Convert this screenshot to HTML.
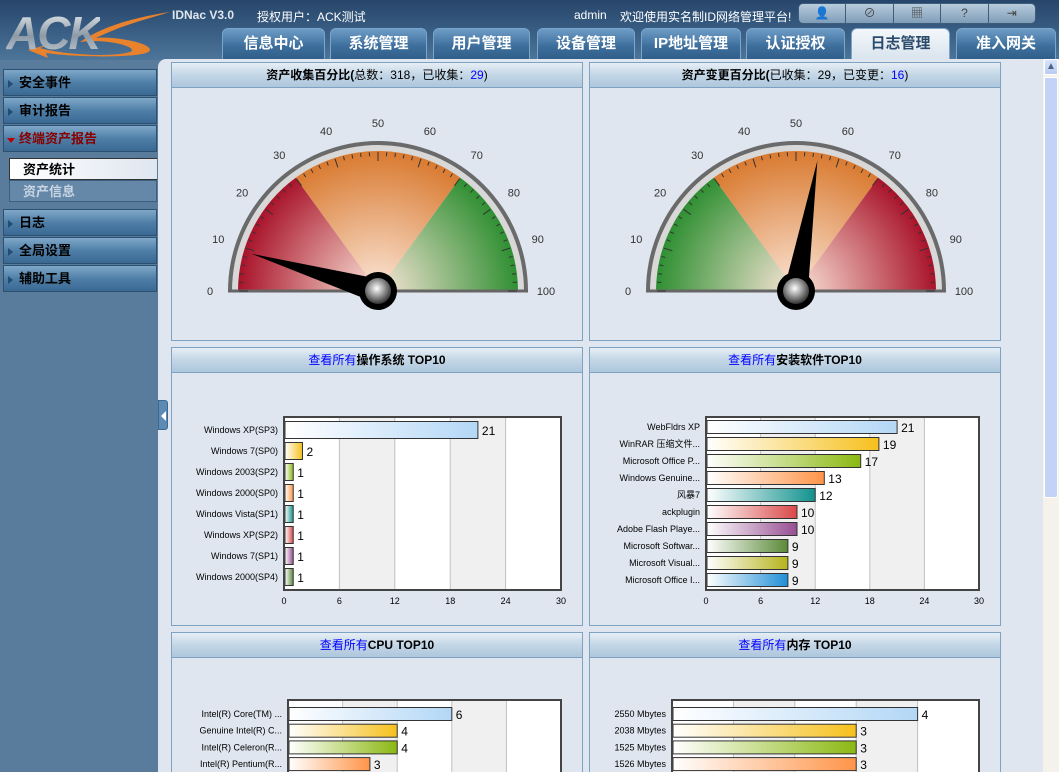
<!DOCTYPE html>
<html style="width:1059px;height:772px;overflow:hidden"><head><meta charset="utf-8">
<style>
*{margin:0;padding:0;box-sizing:border-box}
body{width:1059px;height:772px;overflow:hidden;position:relative;font-family:"Liberation Sans","Noto Sans CJK SC",sans-serif;background:#5a7c9c}
#header{position:absolute;left:0;top:0;width:1059px;height:60px;background:linear-gradient(#27456a,#3c6288 60%,#4d7499)}
#logo{position:absolute;left:6px;top:6px;font:bold italic 46px "Liberation Sans",sans-serif;color:#c9d2da;letter-spacing:-2px;background:linear-gradient(#f4f7fa,#8d9aa6 55%,#c9d2da);-webkit-background-clip:text;-webkit-text-fill-color:transparent}
#swoosh{position:absolute;left:10px;top:8px}
.htext{position:absolute;top:8px;font-size:12px;color:#fff}
.tab{position:absolute;top:28px;height:32px;border-radius:6px 6px 0 0;background:linear-gradient(#6d9cc6,#3e6f9c 55%,#2f5d88);border:1px solid #7aa6cc;border-bottom:none;color:#fff;font-weight:bold;font-size:15px;text-align:center;line-height:30px}
.tab.active{background:linear-gradient(#f3f7fa,#d9e4ee);color:#2b4a6b}
#toolbar{position:absolute;left:798px;top:3px;width:238px;height:21px;border-radius:5px;background:linear-gradient(#b7cbdc,#7f9db8);border:1px solid #3d5d7c;display:flex}
#toolbar div{flex:1;border-right:1px solid #3d5d7c;text-align:center;font-size:12px;line-height:19px;color:#444}
#toolbar div:last-child{border-right:none}
#sidebar{position:absolute;left:0;top:60px;width:158px;height:712px;background:#5a7c9c}
.menu{position:absolute;left:3px;width:154px;height:27px;background:linear-gradient(#7fa8c9,#4f7fa7 50%,#3a6a94);border:1px solid #2c5070;font-weight:bold;font-size:13px;line-height:25px;padding-left:15px;color:#000}
.menu::before{content:"";position:absolute;left:4px;top:10px;border-left:5px solid #234c70;border-top:4px solid transparent;border-bottom:4px solid transparent}
.menu.open{color:#800}
.menu.open::before{border-left:4px solid transparent;border-right:4px solid transparent;border-top:5px solid #b00;border-bottom:none;top:12px;left:3px}
.sub{position:absolute;left:9px;width:148px;height:22px;font-weight:bold;font-size:13px;line-height:21px;padding-left:13px}
#main{position:absolute;left:158px;top:59px;width:885px;height:713px;background:#dfe6f0;border-top-left-radius:8px}
.panel{position:absolute;width:412px;border:1px solid #7ea3c2;background:#dfe6f0;overflow:hidden}
.ph{height:25px;background:linear-gradient(#e6eef5,#c3d6e6 50%,#aec7dc);border-bottom:1px solid #7ea3c2;text-align:center;font-size:12px;font-weight:bold;line-height:25px;color:#000}
.ph a{color:#00f;text-decoration:none;font-weight:normal}
.ph .n{font-weight:normal}
#scroll{position:absolute;left:1043px;top:59px;width:16px;height:713px;background:#f4f2ea}
</style></head><body>
<div id="header">
  <svg id="swoosh" width="170" height="50"><path d="M160 4 C120 10 90 20 70 34 C100 30 130 40 120 44 C100 50 50 46 30 40 L40 36 L18 42 L38 50 L36 45 C70 50 140 50 140 42 C140 34 100 28 86 30 C110 18 140 10 160 4Z" fill="#e8822d"/></svg>
  <div id="logo">ACK</div>
  <div class="htext" style="left:172px;font-weight:bold;color:#dfe6ee">IDNac V3.0</div>
  <div class="htext" style="left:257px">授权用户：ACK测试</div>
  <div class="htext" style="left:574px">admin</div>
  <div class="htext" style="left:620px">欢迎使用实名制ID网络管理平台!</div>
  <div id="toolbar">
    <div>👤</div>
    <div>⊘</div>
    <div>▦</div>
    <div>?</div>
    <div>⇥</div>
  </div>
  <div class="tab" style="left:222px;width:103px">信息中心</div>
  <div class="tab" style="left:330px;width:97px">系统管理</div>
  <div class="tab" style="left:433px;width:97px">用户管理</div>
  <div class="tab" style="left:537px;width:98px">设备管理</div>
  <div class="tab" style="left:641px;width:100px">IP地址管理</div>
  <div class="tab" style="left:746px;width:99px">认证授权</div>
  <div class="tab active" style="left:851px;width:99px">日志管理</div>
  <div class="tab" style="left:956px;width:100px">准入网关</div>
</div>
<div id="sidebar">
  <div class="menu" style="top:9px">安全事件</div>
  <div class="menu" style="top:37px">审计报告</div>
  <div class="menu open" style="top:65px">终端资产报告</div>
  <div class="sub" style="top:98px;background:linear-gradient(90deg,#fff,#dfe6f0);border:1px solid #333;border-right:none">资产统计</div>
  <div class="sub" style="top:120px;background:#6688a8;border:1px solid #3a5f80;color:#c8d6e4">资产信息</div>
  <div class="menu" style="top:149px">日志</div>
  <div class="menu" style="top:177px">全局设置</div>
  <div class="menu" style="top:205px">辅助工具</div>
</div>
<div id="main"></div>
<div style="position:absolute;left:158px;top:400px;width:10px;height:30px;background:#5d8ab3;border:1px solid #3a6a94;border-radius:0 3px 3px 0"><div style="margin:10px 0 0 2px;border-right:5px solid #fff;border-top:5px solid transparent;border-bottom:5px solid transparent;width:0"></div></div>

<div class="panel" style="left:171px;top:62px;height:279px">
  <div class="ph">资产收集百分比(<span class="n">总数：318，已收集：</span><span class="n" style="color:#00f">29</span><span class="n">)</span></div>
  <svg id="g1" width="410" height="252"></svg>
</div>
<div class="panel" style="left:589px;top:62px;height:279px">
  <div class="ph">资产变更百分比(<span class="n">已收集：29，已变更：</span><span class="n" style="color:#00f">16</span><span class="n">)</span></div>
  <svg id="g2" width="410" height="252"></svg>
</div>
<div class="panel" style="left:171px;top:347px;height:279px">
  <div class="ph"><a>查看所有</a>操作系统 TOP10</div>
  <svg id="c1" width="410" height="252"></svg>
</div>
<div class="panel" style="left:589px;top:347px;height:279px">
  <div class="ph"><a>查看所有</a>安装软件TOP10</div>
  <svg id="c2" width="410" height="252"></svg>
</div>
<div class="panel" style="left:171px;top:632px;height:141px">
  <div class="ph"><a>查看所有</a>CPU TOP10</div>
  <svg id="c3" width="410" height="130"></svg>
</div>
<div class="panel" style="left:589px;top:632px;height:141px">
  <div class="ph"><a>查看所有</a>内存 TOP10</div>
  <svg id="c4" width="410" height="130"></svg>
</div>

<div id="scroll">
  <div style="position:absolute;left:1px;top:0;width:14px;height:16px;background:linear-gradient(#d8e4fb,#b8ccf4);border:1px solid #fff;text-align:center;font-size:10px;color:#4d6185;line-height:14px">▲</div>
  <div style="position:absolute;left:1px;top:18px;width:14px;height:421px;background:#c3d3f8;border:1px solid #fff;border-radius:2px"></div>
</div>

<script>
// ---- gauge data ----
const gaugeValues=[29/318*100, 16/29*100];
const gaugeTicks=[0,10,20,30,40,50,60,70,80,90,100];
const gaugeBandStops=[0,30,70,100];
const gauge1Colors=["#a8132a","#d97a30","#2f8f32"];
const gauge2Colors=["#2f8f32","#d97a30","#a8132a"];
// ---- bar chart data ----
const osCats=["Windows XP(SP3)","Windows 7(SP0)","Windows 2003(SP2)","Windows 2000(SP0)","Windows Vista(SP1)","Windows XP(SP2)","Windows 7(SP1)","Windows 2000(SP4)"];
const osVals=[21,2,1,1,1,1,1,1];
const osTicks=[0,6,12,18,24,30];
const swCats=["WebFldrs XP","WinRAR 压缩文件...","Microsoft Office P...","Windows Genuine...","风暴7","ackplugin","Adobe Flash Playe...","Microsoft Softwar...","Microsoft Visual...","Microsoft Office I..."];
const swVals=[21,19,17,13,12,10,10,9,9,9];
const swTicks=[0,6,12,18,24,30];
const cpuCats=["Intel(R) Core(TM) ...","Genuine Intel(R) C...","Intel(R) Celeron(R...","Intel(R) Pentium(R..."];
const cpuVals=[6,4,4,3];
const cpuTicks=[0,2,4,6,8,10];
const memCats=["2550 Mbytes","2038 Mbytes","1525 Mbytes","1526 Mbytes"];
const memVals=[4,3,3,3];
const memTicks=[0,1,2,3,4,5];
const barColors=["#b3d7f6","#f6c01c","#8bb812","#ff9448","#12928e","#d94848","#964e92","#5b8a38","#b5b41c","#1f8fd6"];

const NS="http://www.w3.org/2000/svg";
function mk(parent,tag,attrs){const e=document.createElementNS(NS,tag);for(const k in attrs)e.setAttribute(k,attrs[k]);parent.appendChild(e);return e;}

function drawGauge(svg,value,colors,id){
  const cx=206,cy=203,R=150,r=140;
  const ang=v=>Math.PI-(v/100)*Math.PI;
  const pt=(v,rad)=>[cx+rad*Math.cos(ang(v)),cy-rad*Math.sin(ang(v))];
  const defs=mk(svg,"defs",{});
  colors.forEach((c,i)=>{
    const g=mk(defs,"radialGradient",{id:id+"g"+i,cx:cx,cy:cy,r:r,gradientUnits:"userSpaceOnUse"});
    mk(g,"stop",{offset:"0",["stop-color"]:"#fbe6d8"});
    mk(g,"stop",{offset:"1",["stop-color"]:c});
  });
  const rim=mk(svg,"path",{d:`M${cx-R} ${cy} A${R} ${R} 0 0 1 ${cx+R} ${cy} Z`,fill:"#6a6a6a"});
  
  
  mk(svg,"path",{d:`M${cx-R+4} ${cy} A${R-4} ${R-4} 0 0 1 ${cx+R-4} ${cy} Z`,fill:"#d8d8d8"});
  for(let i=0;i<colors.length;i++){
    const a=pt(gaugeBandStops[i],r),b=pt(gaugeBandStops[i+1],r);
    const band=mk(svg,"path",{d:`M${cx} ${cy} L${a[0]} ${a[1]} A${r} ${r} 0 0 1 ${b[0]} ${b[1]} Z`,fill:`url(#${id}g${i})`});
    
    
  }
  mk(svg,"line",{x1:cx-R,y1:cy,x2:cx+R,y2:cy,stroke:"#666",["stroke-width"]:3});
  for(let v=0;v<=100;v+=2){
    const big=v%10===0,a=pt(v,r-1),b=pt(v,r-(big?10:5));
    mk(svg,"line",{x1:a[0],y1:a[1],x2:b[0],y2:b[1],stroke:"#333",["stroke-width"]:1});
  }
  gaugeTicks.forEach(v=>{
    const p=pt(v,R+18);
    const t=mk(svg,"text",{x:p[0],y:p[1]+4,["text-anchor"]:"middle",["font-size"]:11,fill:"#333",["font-family"]:"Liberation Sans, sans-serif"});
    t.textContent=v;
    
    
  });
  const tip=pt(value,132),a1=ang(value)+Math.PI/2;
  const w=12;
  const nd=mk(svg,"polygon",{points:`${tip[0]},${tip[1]} ${cx+w*Math.cos(a1)},${cy-w*Math.sin(a1)} ${cx-w*Math.cos(a1)},${cy+w*Math.sin(a1)}`,fill:"#000"});
  
  
  const hg=mk(defs,"radialGradient",{id:id+"hub",cx:"0.45",cy:"0.4",r:"0.6"});
  mk(hg,"stop",{offset:"0",["stop-color"]:"#fff"});
  mk(hg,"stop",{offset:"1",["stop-color"]:"#333"});
  mk(svg,"circle",{cx:cx,cy:cy,r:19,fill:"#000"});
  const hub=mk(svg,"circle",{cx:cx,cy:cy,r:13,fill:`url(#${id}hub)`});
  
  
}
drawGauge(document.getElementById("g1"),gaugeValues[0],gauge1Colors,"a");
drawGauge(document.getElementById("g2"),gaugeValues[1],gauge2Colors,"b");

function drawBars(svg,cats,vals,ticks,L,Rt,T,B,first,step,bh,fs,id){
  const max=ticks[ticks.length-1];
  const x=v=>L+(v/max)*(Rt-L);
  const defs=mk(svg,"defs",{});
  mk(svg,"rect",{x:L,y:T,width:Rt-L,height:B-T,fill:"#fff"});
  for(let i=0;i<ticks.length-1;i++){
    if(i%2===1)mk(svg,"rect",{x:x(ticks[i]),y:T,width:x(ticks[i+1])-x(ticks[i]),height:B-T,fill:"#f0f0f0"});
  }
  ticks.forEach((t,i)=>{
    if(i>0&&i<ticks.length-1)mk(svg,"line",{x1:x(t),y1:T,x2:x(t),y2:B,stroke:"#c0c0c0"});
    const tl=mk(svg,"text",{x:x(t),y:B+14,["text-anchor"]:"middle",["font-size"]:9,fill:"#000",["font-family"]:"Liberation Sans, sans-serif"});
    tl.textContent=t;
    
    
  });
  cats.forEach((c,i)=>{
    const cy=first+i*step;
    const col=barColors[i%barColors.length];
    const g=mk(defs,"linearGradient",{id:id+"b"+i,x1:"0",x2:"1",y1:"0",y2:"0"});
    mk(g,"stop",{offset:"0",["stop-color"]:"#fff"});
    mk(g,"stop",{offset:"1",["stop-color"]:col});
    const lab=mk(svg,"text",{x:L-6,y:cy+3,["text-anchor"]:"end",["font-size"]:fs,fill:"#000",["font-family"]:"Liberation Sans, Noto Sans CJK SC, sans-serif"});
    lab.textContent=c;
    
    
    const bar=mk(svg,"rect",{x:L+1,y:cy-bh/2,width:x(vals[i])-L-1,height:bh,fill:`url(#${id}b${i})`,stroke:"#333",["stroke-width"]:1});
    
    
    const vl=mk(svg,"text",{x:x(vals[i])+4,y:cy+5,["font-size"]:12,fill:"#000",["font-family"]:"Liberation Sans, sans-serif"});
    vl.textContent=vals[i];
    
    
  });
  mk(svg,"rect",{x:L,y:T,width:Rt-L,height:B-T,fill:"none",stroke:"#444",["stroke-width"]:2});
}
drawBars(document.getElementById("c1"),osCats,osVals,osTicks,112,389,44,217,57,21,17,9,"o");
drawBars(document.getElementById("c2"),swCats,swVals,swTicks,116,389,44,217,54,17,13,9,"s");
drawBars(document.getElementById("c3"),cpuCats,cpuVals,cpuTicks,116,389,42,160,56,16.7,13,9,"c");
drawBars(document.getElementById("c4"),memCats,memVals,memTicks,82,389,42,160,56,16.7,13,9,"m");
</script>
</body></html>
